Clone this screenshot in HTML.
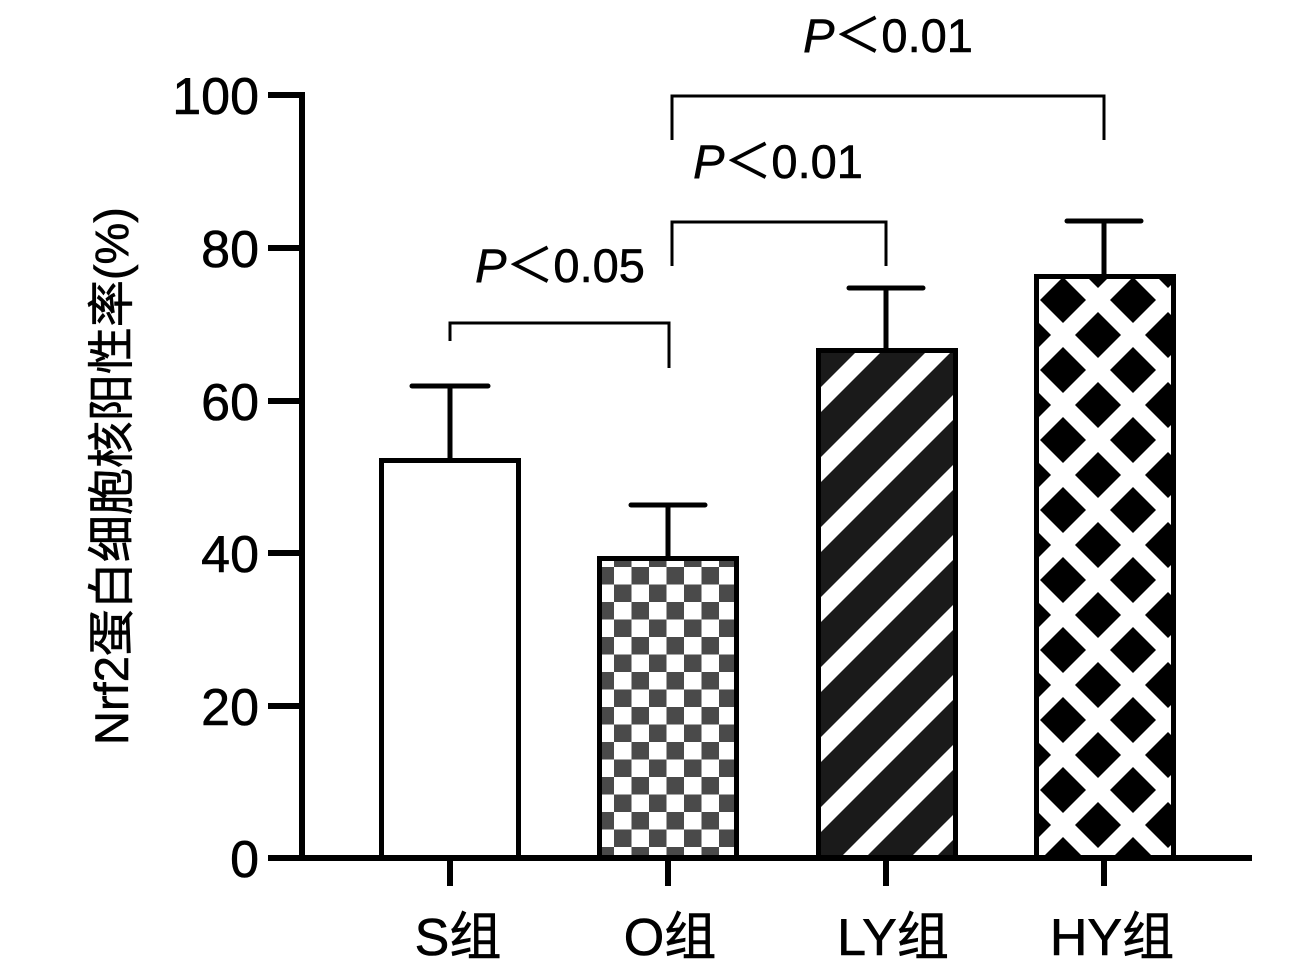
<!DOCTYPE html>
<html><head><meta charset="utf-8"><style>
html,body{margin:0;padding:0;background:#fff}
svg{display:block}
text{font-family:"Liberation Sans","Noto Sans CJK SC",sans-serif;fill:#000;stroke:#000;stroke-width:0.6}
</style></head><body>
<svg width="1299" height="970" viewBox="0 0 1299 970" xmlns="http://www.w3.org/2000/svg">
<defs>
<pattern id="chk" patternUnits="userSpaceOnUse" x="596.5" y="567" width="35" height="35">
<rect width="35" height="35" fill="#fff"/>
<rect x="0" y="0" width="17.5" height="17.5" fill="#4a4a4a"/>
<rect x="17.5" y="17.5" width="17.5" height="17.5" fill="#4a4a4a"/>
</pattern>
<pattern id="str" patternUnits="userSpaceOnUse" x="0" y="0" width="70" height="70">
<rect width="70" height="70" fill="#1a1a1a"/>
<line x1="-10" y1="40.5" x2="40.5" y2="-10" stroke="#fff" stroke-width="17.7"/>
<line x1="-10" y1="110.5" x2="110.5" y2="-10" stroke="#fff" stroke-width="17.7"/>
</pattern>
<pattern id="dia" patternUnits="userSpaceOnUse" x="1028" y="265" width="70" height="70">
<rect width="70" height="70" fill="#fff"/>
<polygon points="35,12 58,35 35,58 12,35" fill="#000"/>
<polygon points="0,-23 23,0 0,23 -23,0" fill="#000"/>
<polygon points="70,-23 93,0 70,23 47,0" fill="#000"/>
<polygon points="0,47 23,70 0,93 -23,70" fill="#000"/>
<polygon points="70,47 93,70 70,93 47,70" fill="#000"/>
</pattern>
</defs>
<g stroke="#000" stroke-width="5" fill="none" stroke-linecap="butt">
<line x1="450" y1="386" x2="450" y2="460"/><line x1="412" y1="386" x2="488" y2="386" stroke-linecap="round"/>
<line x1="668" y1="505" x2="668" y2="558"/><line x1="631" y1="505" x2="705" y2="505" stroke-linecap="round"/>
<line x1="886" y1="288" x2="886" y2="350"/><line x1="849" y1="288" x2="923" y2="288" stroke-linecap="round"/>
<line x1="1104" y1="221" x2="1104" y2="276"/><line x1="1067" y1="221" x2="1141" y2="221" stroke-linecap="round"/>
</g>
<g stroke="#000" stroke-width="5">
<rect x="381.5" y="460.5" width="137" height="398" fill="#fff"/>
<rect x="599.5" y="558.5" width="137" height="300" fill="url(#chk)"/>
<rect x="818.5" y="350.5" width="137" height="508" fill="url(#str)"/>
<rect x="1036.5" y="276.5" width="137" height="582" fill="url(#dia)"/>
</g>
<g stroke="#000" stroke-width="6" fill="none">
<line x1="302" y1="92" x2="302" y2="861"/>
<line x1="299" y1="858" x2="1252" y2="858"/>
<line x1="268" y1="95" x2="302" y2="95"/>
<line x1="268" y1="248" x2="302" y2="248"/>
<line x1="268" y1="401" x2="302" y2="401"/>
<line x1="268" y1="553" x2="302" y2="553"/>
<line x1="268" y1="706" x2="302" y2="706"/>
<line x1="268" y1="858" x2="302" y2="858"/>
<line x1="450" y1="858" x2="450" y2="886"/>
<line x1="668" y1="858" x2="668" y2="886"/>
<line x1="886" y1="858" x2="886" y2="886"/>
<line x1="1104" y1="858" x2="1104" y2="886"/>
<polyline points="450,341 450,323 669,323 669,368" stroke-width="3"/>
<polyline points="672,266 672,222 886,222 886,266" stroke-width="3"/>
<polyline points="672,140 672,96 1104,96 1104,140" stroke-width="3"/>
</g>
<g font-size="52" text-anchor="end">
<text x="259" y="114">100</text>
<text x="259" y="267">80</text>
<text x="259" y="420">60</text>
<text x="259" y="572">40</text>
<text x="259" y="725">20</text>
<text x="259" y="877">0</text>
</g>
<g font-size="52" text-anchor="middle">
<text x="458" y="955">S组</text>
<text x="670" y="955">O组</text>
<text x="893" y="955">LY组</text>
<text x="1112" y="955">HY组</text>
</g>
<g font-size="47" text-anchor="middle">
<text x="560" y="282"><tspan font-style="italic">P</tspan>＜0.05</text>
<text x="778" y="178"><tspan font-style="italic">P</tspan>＜0.01</text>
<text x="888" y="52"><tspan font-style="italic">P</tspan>＜0.01</text>
</g>
<text transform="translate(128,476) rotate(-90)" font-size="47" text-anchor="middle">Nrf2蛋白细胞核阳性率(%)</text>
</svg>
</body></html>
